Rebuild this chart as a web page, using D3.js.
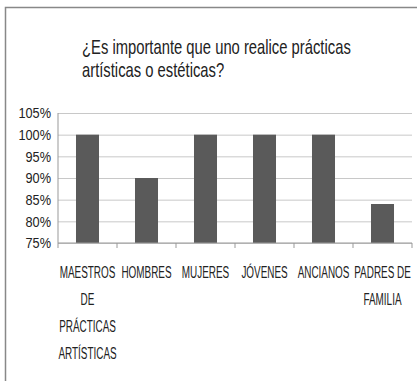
<!DOCTYPE html>
<meta charset="utf-8">
<style>
body { margin: 0; background: #fff; }
svg text { font-family: "Liberation Sans", Arial, sans-serif; fill: #222; }
.grid line { stroke: #c8c8c8; }
.grid path { display: none; }
.bar { fill: #5a5a5a; }
</style>
<body>
<svg width="417" height="381"></svg>
<script src="https://d3js.org/d3.v7.min.js"></script>
<script>
// data
var categories = ["MAESTROS DE PRÁCTICAS ARTÍSTICAS", "HOMBRES", "MUJERES", "JÓVENES", "ANCIANOS", "PADRES DE FAMILIA"];
var labelLines = [["MAESTROS", "DE", "PRÁCTICAS", "ARTÍSTICAS"], ["HOMBRES"], ["MUJERES"], ["JÓVENES"], ["ANCIANOS"], ["PADRES DE", "FAMILIA"]];
var values = [100, 90, 100, 100, 100, 84];
var yTicks = [75, 80, 85, 90, 95, 100, 105];
var titleLines = ["¿Es importante que uno realice prácticas", "artísticas o estéticas?"];

var svg = d3.select("svg"),
    margin = {top: 113, right: 5, bottom: 138, left: 58},
    width = 417 - margin.left - margin.right,
    height = 381 - margin.top - margin.bottom;

// condensed look: the original font is a narrow face
var narrow = 0.62;

// outer frame (left + top)
svg.append("path")
    .attr("d", "M5.5,381 V7.5 H417")
    .attr("fill", "none")
    .attr("stroke", "#888")
    .attr("stroke-width", 1.5);

svg.selectAll(".title")
  .data(titleLines)
  .enter().append("text")
    .attr("class", "title")
    .attr("transform", function(d, i) { return "translate(82," + (54 + i * 23) + ") scale(0.74,1)"; })
    .style("font-size", "20px")
    .text(function(d) { return d; });

var x = d3.scaleBand().domain(categories).range([0, width]).paddingInner(0.61).paddingOuter(0.305);
var band = d3.scaleBand().domain(categories).range([0, width]);
var y = d3.scaleLinear().domain([75, 105]).range([height, 0]);

var g = svg.append("g")
    .attr("transform", "translate(" + margin.left + "," + margin.top + ")");

g.append("g")
    .attr("class", "grid")
    .call(d3.axisLeft(y).tickValues(yTicks).tickSize(-width).tickFormat(""));

g.selectAll(".bar")
  .data(values)
  .enter().append("rect")
    .attr("class", "bar")
    .attr("x", function(d, i) { return x(categories[i]); })
    .attr("y", function(d) { return y(d); })
    .attr("width", x.bandwidth())
    .attr("height", function(d) { return height - y(d); });

// y labels
g.selectAll(".ylab")
  .data(yTicks)
  .enter().append("text")
    .attr("class", "ylab")
    .attr("transform", function(d) { return "translate(-7," + y(d) + ") scale(0.85,1)"; })
    .attr("dy", "0.35em")
    .attr("text-anchor", "end")
    .style("font-size", "15px")
    .text(function(d) { return d + "%"; });

// y axis line
g.append("line")
    .attr("x1", 0).attr("x2", 0)
    .attr("y1", 0).attr("y2", height)
    .attr("stroke", "#999");

// x axis with ticks at band edges
var xa = g.append("g").attr("transform", "translate(0," + height + ")");
xa.append("line").attr("x1", 0).attr("x2", width).attr("stroke", "#999");
xa.selectAll(".tk")
  .data(categories.concat([null]))
  .enter().append("line")
    .attr("x1", function(d) { return d === null ? width : band(d); })
    .attr("x2", function(d) { return d === null ? width : band(d); })
    .attr("y1", 0).attr("y2", 5)
    .attr("stroke", "#999");

xa.selectAll(".xlab")
  .data(labelLines)
  .enter().append("text")
    .attr("class", "xlab")
    .attr("text-anchor", "middle")
    .style("font-size", "16px")
    .attr("transform", function(d, i) { return "translate(" + (band(categories[i]) + band.bandwidth() / 2) + ",0) scale(" + narrow + ",1)"; })
  .selectAll("tspan")
  .data(function(d) { return d; })
  .enter().append("tspan")
    .attr("x", 0)
    .attr("y", function(d, i) { return 35 + i * 27; })
    .text(function(d) { return d; });
</script>
</body>
